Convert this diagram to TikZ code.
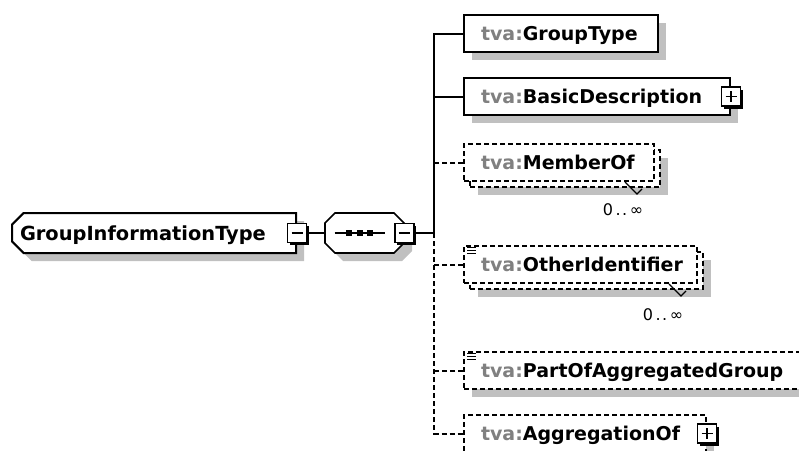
\documentclass[tikz,border=0pt]{standalone}
\usepackage{fontspec}
\setmainfont{DejaVu Sans}
\usetikzlibrary{shapes.misc,shadows,positioning}
\definecolor{shadowgray}{RGB}{192,192,192}
\definecolor{nsgray}{RGB}{128,128,128}
\tikzset{
  conn/.style={line width=2pt},
  opt/.style={conn, dash pattern=on 5pt off 3pt},
  shade8/.style={drop shadow={shadow xshift=8pt, shadow yshift=-8pt, fill=shadowgray, opacity=1}},
  elem/.style={rectangle, draw, conn, fill=white, anchor=north west, minimum height=37pt,
    inner xsep=17pt, inner ysep=0pt, align=left, text height=14pt, text depth=0pt,
    font=\fontsize{19}{22}\selectfont\bfseries},
  grp/.style={chamfered rectangle, chamfered rectangle corners={north west,south west},
    chamfered rectangle xsep=8pt, draw, conn, fill=white, minimum width=284pt, minimum height=40pt,
    inner xsep=0pt, text width=268pt, align=left, text height=14pt, text depth=0pt,
    font=\fontsize{19.4}{22}\selectfont\bfseries},
  seq/.style={rectangle, minimum width=79pt, minimum height=40pt, inner sep=0pt},
  toggle/.style={rectangle, draw, fill=white, line width=1.6pt, minimum size=19pt, inner sep=0pt,
    drop shadow={shadow xshift=2.5pt, shadow yshift=-2.5pt, fill=black, opacity=1}},
  collapse/.style={toggle, path picture={
    \draw[line width=1.4pt] ([xshift=4pt]path picture bounding box.west) -- ([xshift=-4pt]path picture bounding box.east);}},
  expand/.style={toggle, path picture={
    \draw[line width=1.4pt] ([xshift=4pt]path picture bounding box.west) -- ([xshift=-4pt]path picture bounding box.east);
    \draw[line width=1.4pt] ([yshift=-4pt]path picture bounding box.north) -- ([yshift=4pt]path picture bounding box.south);}},
  occ/.style={font=\fontsize{16}{18}\selectfont}
}
\begin{document}
\begin{tikzpicture}[x=1pt,y=-1pt]
  \clip (0,0) rectangle (799,450);
  \fill[white] (0,0) rectangle (799,450);

  \node[grp, shade8] (gi) at (154,233) {GroupInformationType};
  \node[collapse] (gim) at (gi.east) {};
  \fill[shadowgray, shift={(8,8)}] (335,213) -- (394,213) -- (404,223) -- (404,243) -- (394,253)
    -- (335,253) -- (325,243) -- (325,223) -- cycle;
  \filldraw[fill=white, line width=1.6pt] (335,213) -- (394,213) -- (404,223) -- (404,243) -- (394,253)
    -- (335,253) -- (325,243) -- (325,223) -- cycle;
  \node[seq] (sq) at (364.5,233) {};
  \draw[conn] (gim.east) -- (sq.west);
  \draw[line width=1.4pt] ([xshift=-30pt]sq.center) -- ([xshift=20pt]sq.center);
  \foreach \d in {-16,-5,5}
    \fill ([xshift=\d pt]sq.center) +(-3,-3) rectangle +(3,3);
  \node[collapse] (sqm) at (sq.east) {};
  \coordinate (tr) at (434,233);
  \draw[conn] (sqm.east) -- (tr);

  \node[elem, shade8, text width=160pt] (gt) at (463,14) {\textcolor{nsgray}{tva:}GroupType};
  \node[elem, shade8, text width=232pt] (bd) at (463,77) {\textcolor{nsgray}{tva:}BasicDescription};
  \node[expand] (bdp) at (bd.east) {};

  \node[elem, opt, shade8, text width=156pt] (mob) at (469,149) {};
  \node[elem, opt, text width=156pt] (mo) at (463,143) {\textcolor{nsgray}{tva:}MemberOf};
  \draw[line width=1.2pt] ([xshift=-30pt]mo.south east) -- ++(12,12) -- ++(5,-5);
  \node[occ] (moc) at ([shift={(-32,28)}]mo.south east) {0\kern2.5pt.\kern1.5pt.\kern2.5pt∞};

  \node[elem, opt, shade8, text width=199pt] (oib) at (469,251) {};
  \node[elem, opt, text width=199pt] (oi) at (463,245) {\textcolor{nsgray}{tva:}OtherIdentifier};
  \draw[line width=1.2pt] ([xshift=-29pt]oi.south east) -- ++(12,12) -- ++(5,-5);
  \node[occ] (oic) at ([shift={(-35,31)}]oi.south east) {0\kern2.5pt.\kern1.5pt.\kern2.5pt∞};

  \node[elem, opt, shade8, text width=316pt] (pa) at (463,351) {\textcolor{nsgray}{tva:}PartOfAggregatedGroup};
  \node[elem, opt, shade8, text width=208pt] (ag) at (463,414) {\textcolor{nsgray}{tva:}AggregationOf};
  \node[expand] (agp) at (ag.east) {};

  \foreach \n in {oi,pa}{
    \foreach \k in {0,3,6}
      \draw[line width=1pt] ([shift={(4,2+\k)}]\n.north west) -- ++(9,0);
  }

  \draw[conn] (gt.west) -| (tr);
  \draw[conn] (bd.west) -- (bd.west -| tr);
  \draw[opt] (tr) |- (ag.west);
  \draw[opt] (mo.west) -- (mo.west -| tr);
  \draw[opt] (oi.west) -- (oi.west -| tr);
  \draw[opt] (pa.west) -- (pa.west -| tr);
\end{tikzpicture}
\end{document}
